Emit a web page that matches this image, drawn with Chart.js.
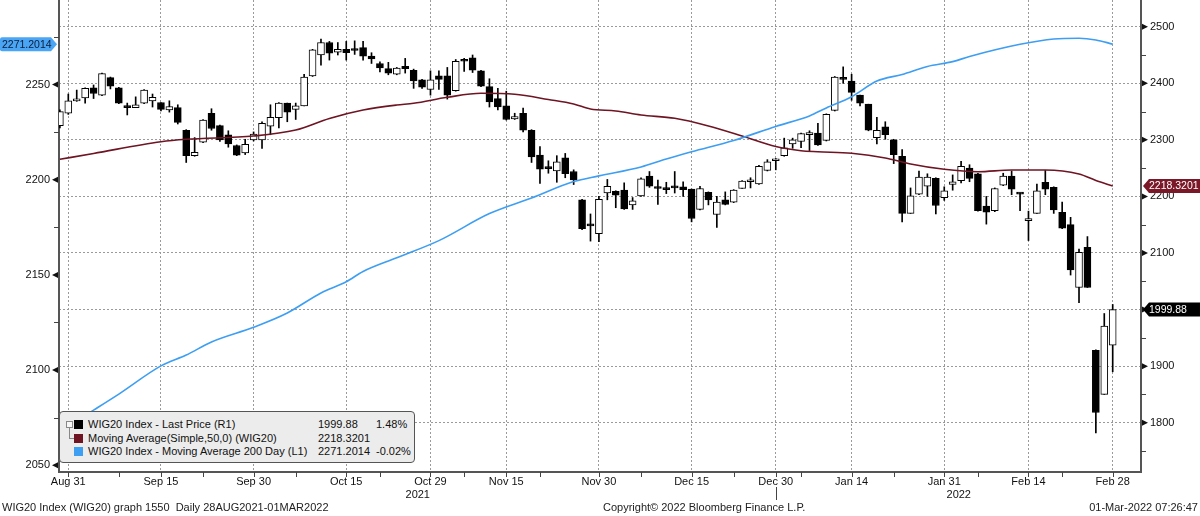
<!DOCTYPE html>
<html>
<head>
<meta charset="utf-8">
<title>WIG20 Index</title>
<script src="https://cdn.jsdelivr.net/npm/chart.js@4.4.1/dist/chart.umd.min.js"></script>
<style>
  html, body { margin: 0; padding: 0; background: #fff; }
  #wrap { position: relative; width: 1200px; height: 516px; overflow: hidden;
          font-family: "Liberation Sans", Arial, sans-serif; color: #111; }
  #chart { position: absolute; left: 0; top: 0; }
  #legend { position: absolute; left: 59px; top: 411px; width: 354px; height: 50px;
            background: #ececec; border: 1px solid #555; border-radius: 4px; font-size: 11px; }
  #legend .row { position: absolute; left: 0; right: 0; height: 13px; line-height: 13px; white-space: nowrap; }
  #legend .sw { position: absolute; left: 14px; top: 2px; width: 9px; height: 9px; }
  #legend .name { position: absolute; left: 28px; }
  #legend .val { position: absolute; left: 258px; }
  #legend .chg { position: absolute; left: 316px; }
  #legend .tree { position: absolute; left: 6px; top: 9px; width: 5px; height: 5px; border: 1px solid #888; background: #f6f6f6; }
  #legend .stem { position: absolute; left: 9px; top: 16px; width: 4px; height: 10px; border-left: 1px solid #888; border-bottom: 1px solid #888; }
  .foot { position: absolute; top: 501px; font-size: 11px; color: #222; white-space: nowrap; }
</style>
</head>
<body>
<div id="wrap">
  <canvas id="chart" width="1200" height="516"></canvas>
  <div id="legend">
    <div class="tree"></div><div class="stem"></div>
    <div class="row" style="top:6px"><span class="sw" style="background:#000"></span><span class="name">WIG20 Index - Last Price (R1)</span><span class="val">1999.88</span><span class="chg">1.48%</span></div>
    <div class="row" style="top:20px"><span class="sw" style="background:#6e1422"></span><span class="name">Moving Average(Simple,50,0) (WIG20)</span><span class="val">2218.3201</span></div>
    <div class="row" style="top:33px"><span class="sw" style="background:#3d9ef2"></span><span class="name">WIG20 Index - Moving Average 200 Day (L1)</span><span class="val">2271.2014</span><span class="chg">-0.02%</span></div>
  </div>
  <div class="foot" style="left:2px">WIG20 Index (WIG20) graph 1550&nbsp; Daily 28AUG2021-01MAR2022</div>
  <div class="foot" style="left:603px">Copyright© 2022 Bloomberg Finance L.P.</div>
  <div class="foot" style="right:2px">01-Mar-2022 07:26:47</div>
</div>
<script>
// trading days shown on the chart
const days = [
  '2021-08-30', '2021-08-31',
  '2021-09-01', '2021-09-02', '2021-09-03', '2021-09-06', '2021-09-07', '2021-09-08', '2021-09-09', '2021-09-10',
  '2021-09-13', '2021-09-14', '2021-09-15', '2021-09-16', '2021-09-17', '2021-09-20', '2021-09-21', '2021-09-22',
  '2021-09-23', '2021-09-24', '2021-09-27', '2021-09-28', '2021-09-29', '2021-09-30',
  '2021-10-01', '2021-10-04', '2021-10-05', '2021-10-06', '2021-10-07', '2021-10-08', '2021-10-11', '2021-10-12',
  '2021-10-13', '2021-10-14', '2021-10-15', '2021-10-18', '2021-10-19', '2021-10-20', '2021-10-21', '2021-10-22',
  '2021-10-25', '2021-10-26', '2021-10-27', '2021-10-28', '2021-10-29',
  '2021-11-02', '2021-11-03', '2021-11-04', '2021-11-05', '2021-11-08', '2021-11-09', '2021-11-10', '2021-11-12',
  '2021-11-15', '2021-11-16', '2021-11-17', '2021-11-18', '2021-11-19', '2021-11-22', '2021-11-23', '2021-11-24',
  '2021-11-25', '2021-11-26', '2021-11-29', '2021-11-30',
  '2021-12-01', '2021-12-02', '2021-12-03', '2021-12-06', '2021-12-07', '2021-12-08', '2021-12-09', '2021-12-10',
  '2021-12-13', '2021-12-14', '2021-12-15', '2021-12-16', '2021-12-17', '2021-12-20', '2021-12-21', '2021-12-22',
  '2021-12-23', '2021-12-27', '2021-12-28', '2021-12-29', '2021-12-30',
  '2022-01-03', '2022-01-04', '2022-01-05', '2022-01-07', '2022-01-10', '2022-01-11', '2022-01-12', '2022-01-13',
  '2022-01-14', '2022-01-17', '2022-01-18', '2022-01-19', '2022-01-20', '2022-01-21', '2022-01-24', '2022-01-25',
  '2022-01-26', '2022-01-27', '2022-01-28', '2022-01-31',
  '2022-02-01', '2022-02-02', '2022-02-03', '2022-02-04', '2022-02-07', '2022-02-08', '2022-02-09', '2022-02-10',
  '2022-02-11', '2022-02-14', '2022-02-15', '2022-02-16', '2022-02-17', '2022-02-18', '2022-02-21', '2022-02-22',
  '2022-02-23', '2022-02-24', '2022-02-25', '2022-02-28'
];

// WIG20 daily OHLC (right axis)
const open = [
  2325, 2347, 2369, 2374, 2392, 2379, 2410, 2392, 2358, 2357,
  2365, 2369, 2366, 2353, 2357, 2317, 2272, 2296, 2347, 2325,
  2309, 2290, 2277, 2300, 2300, 2324, 2339, 2365, 2354, 2360,
  2413, 2450, 2472, 2455, 2460, 2459, 2463, 2448, 2435, 2426,
  2416, 2430, 2423, 2406, 2389, 2413, 2413, 2387, 2440, 2445,
  2422, 2394, 2373, 2360, 2337, 2347, 2317, 2273, 2250, 2245,
  2268, 2244, 2194, 2149, 2134, 2206, 2209, 2211, 2185, 2201,
  2236, 2215, 2213, 2216, 2217, 2213, 2177, 2207, 2168, 2194,
  2190, 2214, 2226, 2222, 2246, 2263, 2272, 2293, 2297, 2309,
  2312, 2299, 2352, 2408, 2404, 2379, 2363, 2304, 2323, 2300,
  2271, 2170, 2204, 2218, 2232, 2198, 2221, 2228, 2250, 2240,
  2183, 2175, 2220, 2236, 2205, 2157, 2170, 2225, 2216, 2172,
  2150, 2039, 2110, 1928, 1850, 1937
];
const high = [
  2353, 2381, 2388, 2392, 2397, 2418, 2411, 2393, 2365, 2376,
  2389, 2381, 2366, 2369, 2362, 2318, 2304, 2336, 2355, 2326,
  2316, 2291, 2301, 2314, 2332, 2362, 2366, 2365, 2365, 2416,
  2460, 2478, 2474, 2472, 2474, 2475, 2474, 2454, 2438, 2437,
  2428, 2444, 2425, 2407, 2422, 2422, 2428, 2442, 2444, 2450,
  2423, 2408, 2391, 2386, 2347, 2356, 2318, 2288, 2263, 2272,
  2276, 2247, 2195, 2169, 2200, 2230, 2210, 2224, 2198, 2233,
  2244, 2229, 2225, 2244, 2226, 2213, 2218, 2208, 2200, 2208,
  2212, 2228, 2233, 2255, 2265, 2267, 2303, 2303, 2312, 2316,
  2329, 2346, 2412, 2429, 2416, 2379, 2363, 2340, 2332, 2301,
  2283, 2215, 2245, 2240, 2233, 2217, 2238, 2262, 2256, 2241,
  2200, 2215, 2241, 2245, 2206, 2174, 2222, 2246, 2217, 2190,
  2163, 2107, 2129, 1929, 1993, 2009
];
const low = [
  2321, 2345, 2368, 2365, 2373, 2378, 2390, 2364, 2344, 2357,
  2364, 2358, 2351, 2349, 2328, 2260, 2271, 2295, 2317, 2297,
  2287, 2272, 2274, 2298, 2285, 2309, 2321, 2332, 2336, 2360,
  2412, 2432, 2441, 2450, 2441, 2451, 2441, 2435, 2420, 2415,
  2415, 2418, 2391, 2391, 2379, 2389, 2372, 2386, 2421, 2419,
  2394, 2358, 2353, 2335, 2336, 2314, 2260, 2223, 2241, 2225,
  2233, 2221, 2141, 2121, 2120, 2194, 2180, 2177, 2177, 2200,
  2216, 2186, 2205, 2206, 2200, 2155, 2176, 2185, 2145, 2185,
  2189, 2214, 2215, 2221, 2245, 2247, 2271, 2285, 2286, 2281,
  2290, 2298, 2351, 2400, 2370, 2360, 2316, 2293, 2301, 2258,
  2155, 2170, 2203, 2200, 2169, 2193, 2211, 2224, 2226, 2174,
  2151, 2173, 2219, 2203, 2175, 2122, 2170, 2203, 2170, 2143,
  2061, 2012, 2039, 1782, 1850, 1890
];
const close = [
  2350, 2369, 2372, 2391, 2382, 2417, 2395, 2365, 2357, 2362,
  2388, 2375, 2354, 2359, 2331, 2272, 2278, 2335, 2320, 2300,
  2293, 2273, 2292, 2310, 2329, 2340, 2365, 2349, 2360, 2411,
  2459, 2472, 2453, 2460, 2454, 2458, 2448, 2443, 2427, 2418,
  2427, 2426, 2404, 2393, 2406, 2407, 2379, 2439, 2439, 2423,
  2395, 2367, 2358, 2336, 2341, 2317, 2270, 2248, 2249, 2261,
  2240, 2229, 2143, 2148, 2195, 2218, 2202, 2178, 2192, 2231,
  2218, 2214, 2212, 2215, 2212, 2161, 2214, 2194, 2190, 2186,
  2211, 2227, 2227, 2253, 2261, 2266, 2286, 2300, 2311, 2313,
  2291, 2345, 2411, 2407, 2384, 2365, 2317, 2317, 2309, 2274,
  2170, 2201, 2234, 2234, 2184, 2210, 2226, 2253, 2232, 2175,
  2172, 2214, 2236, 2213, 2204, 2161, 2210, 2213, 2176, 2144,
  2070, 2101, 2039, 1818, 1971, 1999.88
];

// 50 day simple moving average (right axis), read at these days
const ma50Dates = [
  '2021-08-30', '2021-09-03', '2021-09-15', '2021-09-20', '2021-09-30', '2021-10-07', '2021-10-13', '2021-10-19',
  '2021-10-25', '2021-10-27', '2021-11-03', '2021-11-09', '2021-11-16', '2021-11-22', '2021-11-25', '2021-11-29',
  '2021-12-02', '2021-12-07', '2021-12-13', '2021-12-17', '2021-12-23', '2021-12-30', '2022-01-05', '2022-01-10',
  '2022-01-14', '2022-01-20', '2022-01-25', '2022-01-31', '2022-02-04', '2022-02-10', '2022-02-16', '2022-02-22',
  '2022-02-24', '2022-02-28'
];
const ma50 = [
  2265.6, 2276.0, 2296.7, 2301.0, 2306.8, 2317.4, 2337.8, 2352.7,
  2361.6, 2364.6, 2375.2, 2382.3, 2380.5, 2371.3, 2363.4, 2354.5,
  2351.0, 2343.9, 2338.1, 2324.5, 2306.8, 2288.2, 2280.8, 2279.0,
  2276.2, 2267.9, 2257.3, 2247.9, 2243.7, 2246.7, 2246.7, 2239.6,
  2228.2, 2218.3201
];

// 200 day moving average (left axis)
const ma200Dates = [
  '2021-08-30', '2021-09-03', '2021-09-08', '2021-09-15', '2021-09-20', '2021-09-23', '2021-09-30', '2021-10-06',
  '2021-10-12', '2021-10-15', '2021-10-19', '2021-10-25', '2021-11-02', '2021-11-10', '2021-11-18', '2021-11-25',
  '2021-11-30', '2021-12-07', '2021-12-10', '2021-12-15', '2021-12-22', '2021-12-30', '2022-01-07', '2022-01-11',
  '2022-01-14', '2022-01-19', '2022-01-24', '2022-01-27', '2022-02-01', '2022-02-03', '2022-02-11', '2022-02-17',
  '2022-02-22', '2022-02-24', '2022-02-28'
];
const ma200 = [
  2068.0, 2079.0, 2087.4, 2102.2, 2107.9, 2114.8, 2122.5, 2130.0,
  2140.5, 2146.4, 2151.8, 2159.0, 2168.0, 2182.2, 2190.4, 2199.0,
  2202.0, 2206.7, 2210.9, 2214.7, 2220.6, 2228.0, 2233.5, 2237.7,
  2243.6, 2251.8, 2255.3, 2259.5, 2262.0, 2264.7, 2271.1, 2273.9,
  2274.3, 2273.4, 2271.2014
];

// axis ticks
const xMajor = ['2021-08-31', '2021-09-15', '2021-09-30', '2021-10-15', '2021-10-29', '2021-11-15', '2021-11-30',
                '2021-12-15', '2021-12-30', '2022-01-14', '2022-01-31', '2022-02-14', '2022-02-28'];
const xMajorLabels = ['Aug 31', 'Sep 15', 'Sep 30', 'Oct 15', 'Oct 29', 'Nov 15', 'Nov 30',
                      'Dec 15', 'Dec 30', 'Jan 14', 'Jan 31', 'Feb 14', 'Feb 28'];
const xMinor = ['2021-09-08', '2021-09-22', '2021-10-07', '2021-10-21', '2021-11-05', '2021-11-19', '2021-12-07',
                '2021-12-22', '2022-01-05', '2022-01-21', '2022-02-04', '2022-02-18'];
const yearLabels = ['2021', '2022'];
const yearBreak = '2021-12-30';
const leftTicks = [2050, 2100, 2150, 2200, 2250];
const leftMinor = [2075, 2125, 2175, 2225, 2275];
const rightTicks = [1800, 1900, 2000, 2100, 2200, 2300, 2400, 2500];
const rightMinor = [1750, 1850, 1950, 2050, 2150, 2250, 2350, 2450];

const ix = d => days.indexOf(d);
const majorIdx = xMajor.map(ix);

Chart.defaults.font.family = '"Liberation Sans", Arial, sans-serif';
Chart.defaults.font.size = 11;
Chart.defaults.color = '#111';

// no label overhang padding: the plot must fill the canvas edge to edge
function noPad(s) {
    s.paddingTop = 0;
    s.paddingBottom = 0;
    s.paddingLeft = 0;
    s.paddingRight = 0;
}

function drawTag(ctx, text, y, left, right, tipLeft, fill, color) {
    const h = 7;
    ctx.beginPath();
    if (tipLeft) {
        ctx.moveTo(left, y);
        ctx.lineTo(left + 6, y - h);
        ctx.lineTo(right, y - h);
        ctx.lineTo(right, y + h);
        ctx.lineTo(left + 6, y + h);
    } else {
        ctx.moveTo(right, y);
        ctx.lineTo(right - 6, y - h);
        ctx.lineTo(left + 2, y - h);
        ctx.quadraticCurveTo(left, y - h, left, y - h + 2);
        ctx.lineTo(left, y + h - 2);
        ctx.quadraticCurveTo(left, y + h, left + 2, y + h);
        ctx.lineTo(right - 6, y + h);
    }
    ctx.closePath();
    ctx.fillStyle = fill;
    ctx.fill();
    ctx.fillStyle = color;
    ctx.textAlign = 'left';
    ctx.textBaseline = 'middle';
    ctx.fillText(text, tipLeft ? left + 6 : left + 2, y + 0.5);
}

// tick marks, year labels and last-value tags
const decor = {
    id: 'decor',
    afterDraw(chart) {
        const { ctx, chartArea: a, scales: { x, yL, yR } } = chart;
        ctx.save();
        ctx.fillStyle = '#111';
        ctx.strokeStyle = '#444';
        ctx.lineWidth = 1;

        leftTicks.forEach(v => {
            const y = yL.getPixelForValue(v);
            ctx.beginPath();
            ctx.moveTo(a.left - 1, y - 3);
            ctx.lineTo(a.left - 1, y + 3);
            ctx.lineTo(a.left - 7, y);
            ctx.closePath();
            ctx.fill();
        });
        rightTicks.forEach(v => {
            const y = yR.getPixelForValue(v);
            ctx.beginPath();
            ctx.moveTo(a.right + 1, y - 3);
            ctx.lineTo(a.right + 1, y + 3);
            ctx.lineTo(a.right + 7, y);
            ctx.closePath();
            ctx.fill();
        });
        ctx.beginPath();
        leftMinor.forEach(v => {
            const y = Math.round(yL.getPixelForValue(v)) + 0.5;
            ctx.moveTo(a.left - 5, y);
            ctx.lineTo(a.left, y);
        });
        rightMinor.forEach(v => {
            const y = Math.round(yR.getPixelForValue(v)) + 0.5;
            ctx.moveTo(a.right, y);
            ctx.lineTo(a.right + 5, y);
        });
        xMajor.concat(xMinor).forEach(d => {
            const px = Math.round(x.getPixelForValue(ix(d))) + 0.5;
            ctx.moveTo(px, a.bottom);
            ctx.lineTo(px, a.bottom + 5);
        });
        const sep = Math.round(x.getPixelForValue(ix(yearBreak))) + 0.5;
        ctx.moveTo(sep, a.bottom + 15);
        ctx.lineTo(sep, a.bottom + 28);
        ctx.stroke();

        ctx.font = '11px "Liberation Sans", Arial, sans-serif';
        ctx.textAlign = 'center';
        ctx.textBaseline = 'middle';
        ctx.fillText(yearLabels[0], (a.left + sep) / 2, 495);
        ctx.fillText(yearLabels[1], (sep + a.right) / 2, 495);

        ctx.font = '10.5px "Liberation Sans", Arial, sans-serif';
        drawTag(ctx, '2271.2014', yL.getPixelForValue(ma200[ma200.length - 1]), 0, a.left - 2, false, '#4aa5f4', '#0b1c3a');
        drawTag(ctx, '2218.3201', yR.getPixelForValue(ma50[ma50.length - 1]), a.right + 2, 1200, true, '#7a1828', '#fff');
        drawTag(ctx, '1999.88', yR.getPixelForValue(close[close.length - 1]), a.right + 2, 1200, true, '#000', '#fff');
        ctx.restore();
    }
};

new Chart(document.getElementById('chart'), {
    type: 'bar',
    data: {
        datasets: [
            {
                // 200 day MA, left axis
                type: 'line',
                data: ma200Dates.map((d, k) => ({ x: ix(d), y: ma200[k] })),
                yAxisID: 'yL',
                borderColor: '#3d9ef2',
                borderWidth: 1.6,
                pointRadius: 0,
                cubicInterpolationMode: 'monotone',
                order: 0
            },
            {
                // 50 day MA, right axis
                type: 'line',
                data: ma50Dates.map((d, k) => ({ x: ix(d), y: ma50[k] })),
                yAxisID: 'yR',
                borderColor: '#6e1422',
                borderWidth: 1.6,
                pointRadius: 0,
                cubicInterpolationMode: 'monotone',
                order: 0
            },
            {
                // candle bodies
                type: 'bar',
                data: days.map((d, i) => ({ x: i, y: [open[i], close[i]] })),
                yAxisID: 'yR',
                backgroundColor: days.map((d, i) => close[i] > open[i] ? '#fff' : '#000'),
                borderColor: '#000',
                borderWidth: 1,
                borderSkipped: false,
                barThickness: 7,
                minBarLength: 2,
                grouped: false,
                order: 1
            },
            {
                // wicks
                type: 'bar',
                data: days.map((d, i) => ({ x: i, y: [low[i], high[i]] })),
                yAxisID: 'yR',
                backgroundColor: '#000',
                barThickness: 1,
                grouped: false,
                order: 2
            }
        ]
    },
    options: {
        responsive: false,
        animation: false,
        layout: { padding: 0 },
        plugins: {
            legend: { display: false },
            tooltip: { enabled: false }
        },
        scales: {
            x: {
                type: 'linear',
                position: 'bottom',
                min: -0.104,
                max: 128.36,
                offset: false,
                afterBuildTicks: s => { s.ticks = majorIdx.concat(xMinor.map(ix)).sort((p, q) => p - q).map(v => ({ value: v })); },
                afterFit: s => { s.height = 44; noPad(s); },
                ticks: {
                    autoSkip: false,
                    maxRotation: 0,
                    padding: 3,
                    color: '#111',
                    callback: v => { const k = majorIdx.indexOf(v); return k >= 0 ? xMajorLabels[k] : ''; }
                },
                grid: {
                    offset: false,
                    drawTicks: false,
                    color: c => (c.tick && majorIdx.includes(c.tick.value)) ? '#9a9a9a' : 'rgba(0,0,0,0)'
                },
                border: { color: '#555', width: 2, dash: [2, 2] }
            },
            yL: {
                position: 'left',
                min: 2046.48,
                max: 2294.38,
                afterBuildTicks: s => { s.ticks = leftTicks.map(v => ({ value: v })); },
                afterFit: s => { s.width = 59; noPad(s); },
                ticks: { padding: 9, color: '#111', callback: v => String(v) },
                grid: { display: false, drawTicks: false },
                border: { color: '#555', width: 2 }
            },
            yR: {
                position: 'right',
                min: 1712.85,
                max: 2547.2,
                afterBuildTicks: s => { s.ticks = rightTicks.map(v => ({ value: v })); },
                afterFit: s => { s.width = 59; noPad(s); },
                ticks: { padding: 9, color: '#111', callback: v => String(v) },
                grid: { color: '#9a9a9a', drawTicks: false },
                border: { color: '#555', width: 2, dash: [2, 2] }
            }
        }
    },
    plugins: [decor]
});
</script>
</body>
</html>
